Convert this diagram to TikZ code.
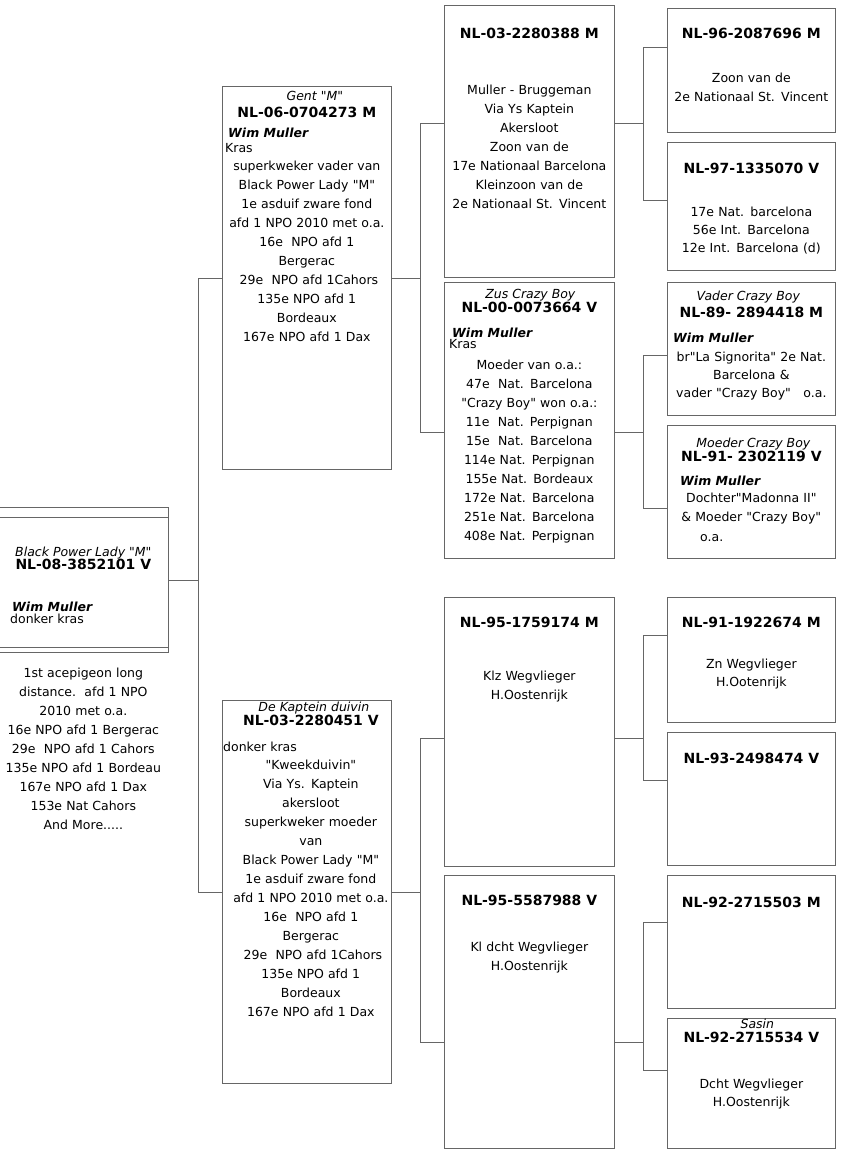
\documentclass[tikz,border=0pt]{standalone}
\usepackage{fontspec}
\newfontfamily\pedfont{DejaVu Sans}
\usetikzlibrary{calc,positioning}

\begin{document}
\begin{tikzpicture}[x=1pt,y=-1pt,
  box/.style={draw=black!60,line width=0.7pt,anchor=north west,inner sep=0pt},
  link/.style={draw=black!60,line width=0.7pt},
  txt/.style={font=\pedfont\fontsize{12.5}{19}\selectfont,inner sep=0pt,anchor=base,align=center,text width=166pt},
  nr/.style={font=\pedfont\fontsize{14}{16}\selectfont\bfseries,inner sep=0pt,anchor=base},
  nm/.style={font=\pedfont\fontsize{12.5}{15}\selectfont\itshape,inner sep=0pt,anchor=base},
  own/.style={font=\pedfont\fontsize{12.5}{15}\selectfont\bfseries\itshape,inner sep=0pt,anchor=base west},
  lft/.style={font=\pedfont\fontsize{12.5}{15}\selectfont,inner sep=0pt,anchor=base west}]
 \useasboundingbox (0,0) rectangle (843,1157);
 % boxes
 \node[box,minimum width=174pt,minimum height=145pt] (root) at (-6,507) {};
 \node[box,minimum width=169pt,minimum height=383pt] (gent) at (222,86) {};
 \node[box,minimum width=169pt,minimum height=383pt] (kap) at (222,700) {};
 \node[box,minimum width=170pt,minimum height=272pt] (n03) at (444,5) {};
 \node[box,minimum width=170pt,minimum height=276pt] (zus) at (444,282) {};
 \node[box,minimum width=170pt,minimum height=269pt] (n9517) at (444,597) {};
 \node[box,minimum width=170pt,minimum height=273pt] (n9555) at (444,875) {};
 \node[box,minimum width=168pt,minimum height=124pt] (n96) at (667,8) {};
 \node[box,minimum width=168pt,minimum height=128pt] (n97) at (667,142) {};
 \node[box,minimum width=168pt,minimum height=133pt] (vader) at (667,282) {};
 \node[box,minimum width=168pt,minimum height=133pt] (moeder) at (667,425) {};
 \node[box,minimum width=168pt,minimum height=125pt] (n91) at (667,597) {};
 \node[box,minimum width=168pt,minimum height=133pt] (n93) at (667,732) {};
 \node[box,minimum width=168pt,minimum height=133pt] (n9203) at (667,875) {};
 \node[box,minimum width=168pt,minimum height=130pt] (sasin) at (667,1018) {};
 \draw[link] ($(root.north west)+(0,10)$) -- ($(root.north east)+(0,10)$);
 \draw[link] ($(root.south west)+(0,-5)$) -- ($(root.south east)+(0,-5)$);

 % connectors
 \coordinate (n03-c) at ($(n03.north west)+(0,118)$);
 \coordinate (zus-c) at ($(zus.north west)+(0,150)$);
 \coordinate (n9517-c) at ($(n9517.north west)+(0,141)$);
 \coordinate (n9555-c) at ($(n9555.north west)+(0,167)$);
 \coordinate (n96-c) at ($(n96.north west)+(0,39)$);
 \coordinate (n97-c) at ($(n97.north west)+(0,58)$);
 \coordinate (vader-c) at ($(vader.north west)+(0,73)$);
 \coordinate (moeder-c) at ($(moeder.north west)+(0,83)$);
 \coordinate (n91-c) at ($(n91.north west)+(0,38)$);
 \coordinate (n93-c) at ($(n93.north west)+(0,48)$);
 \coordinate (n9203-c) at ($(n9203.north west)+(0,47)$);
 \coordinate (sasin-c) at ($(sasin.north west)+(0,52)$);
 \draw[link] (root.east) -- ++(30,0) |- (gent.west);
 \draw[link] (root.east) -- ++(30,0) |- (kap.west);
 \draw[link] (gent.east) -- ++(29,0) |- (n03-c);
 \draw[link] (gent.east) -- ++(29,0) |- (zus-c);
 \draw[link] (kap.east) -- ++(29,0) |- (n9517-c);
 \draw[link] (kap.east) -- ++(29,0) |- (n9555-c);
 \draw[link] (n03-c -| n03.east) -- ++(29,0) |- (n96-c);
 \draw[link] (n03-c -| n03.east) -- ++(29,0) |- (n97-c);
 \draw[link] (zus-c -| zus.east) -- ++(29,0) |- (vader-c);
 \draw[link] (zus-c -| zus.east) -- ++(29,0) |- (moeder-c);
 \draw[link] (n9517-c -| n9517.east) -- ++(29,0) |- (n91-c);
 \draw[link] (n9517-c -| n9517.east) -- ++(29,0) |- (n93-c);
 \draw[link] (n9555-c -| n9555.east) -- ++(29,0) |- (n9203-c);
 \draw[link] (n9555-c -| n9555.east) -- ++(29,0) |- (sasin-c);

 % root
 \node[nm] (root-nm) at ($(root.north)+(2,49)$) {Black Power Lady "M"};
 \node[nr] (root-nr) at ($(root.north)+(2,62)$) {NL-08-3852101 V};
 \node[own] (root-own) at ($(root.north west)+(18,104)$) {Wim Muller};
 \node[lft] (root-kl) at ($(root.north west)+(16,116)$) {donker kras};
 \node[txt] (root-tx) at ($(root.south)+(2,25)$) {1st acepigeon long\\distance.\ \ afd 1 NPO\\2010 met o.a.\\16e NPO afd 1 Bergerac\\29e\ \ NPO afd 1 Cahors\\135e NPO afd 1 Bordeau\\167e NPO afd 1 Dax\\153e Nat Cahors\\And More.....};

 % father
 \node[nm] (gent-nm) at ($(gent.north)+(8,14)$) {Gent "M"};
 \node[nr] (gent-nr) at ($(gent.north)+(0,31)$) {NL-06-0704273 M};
 \node[own] (gent-own) at ($(gent.north west)+(6,51)$) {Wim Muller};
 \node[lft] (gent-kl) at ($(gent.north west)+(3,66)$) {Kras};
 \node[txt] (gent-tx) at ($(gent.north)+(0,84)$) {superkweker vader van\\Black Power Lady "M"\\1e asduif zware fond\\afd 1 NPO 2010 met o.a.\\16e\ \ NPO afd 1\\Bergerac\\\ 29e\ \ NPO afd 1Cahors\\135e NPO afd 1\\Bordeaux\\167e NPO afd 1 Dax};

 % mother
 \node[nm] (kap-nm) at ($(kap.north)+(7,11)$) {De Kaptein duivin};
 \node[nr] (kap-nr) at ($(kap.north)+(4,25)$) {NL-03-2280451 V};
 \node[lft] (kap-kl) at ($(kap.north west)+(1,51)$) {donker kras};
 \node[txt] (kap-tx) at ($(kap.north)+(4,69)$) {"Kweekduivin"\\Via Ys. Kaptein\\akersloot\\superkweker moeder\\van\\Black Power Lady "M"\\1e asduif zware fond\\afd 1 NPO 2010 met o.a.\\16e\ \ NPO afd 1\\Bergerac\\\ 29e\ \ NPO afd 1Cahors\\135e NPO afd 1\\Bordeaux\\167e NPO afd 1 Dax};

 % grandparents
 \node[nr] (n03-nr) at ($(n03.north)+(0,33)$) {NL-03-2280388 M};
 \node[txt] (n03-tx) at ($(n03.north)+(0,89)$) {Muller - Bruggeman\\Via Ys Kaptein\\Akersloot\\Zoon van de\\17e Nationaal Barcelona\\Kleinzoon van de\\2e Nationaal St. Vincent};
 \node[nm] (zus-nm) at ($(zus.north)+(1,16)$) {Zus Crazy Boy};
 \node[nr] (zus-nr) at ($(zus.north)+(0,30)$) {NL-00-0073664 V};
 \node[own] (zus-own) at ($(zus.north west)+(8,55)$) {Wim Muller};
 \node[lft] (zus-kl) at ($(zus.north west)+(5,66)$) {Kras};
 \node[txt] (zus-tx) at ($(zus.north)+(0,87)$) {Moeder van o.a.:\\47e\ \ Nat. Barcelona\\"Crazy Boy" won o.a.:\\11e\ \ Nat. Perpignan\\15e\ \ Nat. Barcelona\\114e Nat. Perpignan\\155e Nat. Bordeaux\\172e Nat. Barcelona\\251e Nat. Barcelona\\408e Nat. Perpignan};
 \node[nr] (n9517-nr) at ($(n9517.north)+(0,30)$) {NL-95-1759174 M};
 \node[txt] (n9517-tx) at ($(n9517.north)+(0,83)$) {Klz Wegvlieger\\H.Oostenrijk};
 \node[nr] (n9555-nr) at ($(n9555.north)+(0,30)$) {NL-95-5587988 V};
 \node[txt] (n9555-tx) at ($(n9555.north)+(0,76)$) {Kl dcht Wegvlieger\\H.Oostenrijk};

 % great-grandparents
 \node[nr] (n96-nr) at ($(n96.north)+(0,30)$) {NL-96-2087696 M};
 \node[txt] (n96-tx) at ($(n96.north)+(0,74)$) {Zoon van de\\2e Nationaal St. Vincent};
 \node[nr] (n97-nr) at ($(n97.north)+(0,31)$) {NL-97-1335070 V};
 \node[txt,font=\pedfont\fontsize{12.5}{18}\selectfont] (n97-tx) at ($(n97.north)+(0,74)$) {17e Nat. barcelona\\56e Int. Barcelona\\12e Int. Barcelona (d)};
 \node[nm] (vader-nm) at ($(vader.north)+(-3,18)$) {Vader Crazy Boy};
 \node[nr] (vader-nr) at ($(vader.north)+(0,35)$) {NL-89- 2894418 M};
 \node[own] (vader-own) at ($(vader.north west)+(6,60)$) {Wim Muller};
 \node[txt,font=\pedfont\fontsize{12.5}{18}\selectfont] (vader-tx) at ($(vader.north)+(0,79)$) {br"La Signorita" 2e Nat.\\Barcelona \&\\vader "Crazy Boy"\ \ \ o.a.};
 \node[nm] (moeder-nm) at ($(moeder.north)+(2,22)$) {Moeder Crazy Boy};
 \node[nr] (moeder-nr) at ($(moeder.north)+(0,36)$) {NL-91- 2302119 V};
 \node[own] (moeder-own) at ($(moeder.north west)+(13,60)$) {Wim Muller};
 \node[txt] (moeder-tx) at ($(moeder.north)+(0,77)$) {Dochter"Madonna II"\\\& Moeder "Crazy Boy"};
 \node[lft] (moeder-oa) at ($(moeder.north west)+(33,116)$) {o.a.};
 \node[nr] (n91-nr) at ($(n91.north)+(0,30)$) {NL-91-1922674 M};
 \node[txt,font=\pedfont\fontsize{12.5}{18}\selectfont] (n91-tx) at ($(n91.north)+(0,71)$) {Zn Wegvlieger\\H.Ootenrijk};
 \node[nr] (n93-nr) at ($(n93.north)+(0,31)$) {NL-93-2498474 V};
 \node[nr] (n9203-nr) at ($(n9203.north)+(0,32)$) {NL-92-2715503 M};
 \node[nm] (sasin-nm) at ($(sasin.north)+(6,10)$) {Sasin};
 \node[nr] (sasin-nr) at ($(sasin.north)+(0,24)$) {NL-92-2715534 V};
 \node[txt,font=\pedfont\fontsize{12.5}{18}\selectfont] (sasin-tx) at ($(sasin.north)+(0,70)$) {Dcht Wegvlieger\\H.Oostenrijk};
\end{tikzpicture}
\end{document}
